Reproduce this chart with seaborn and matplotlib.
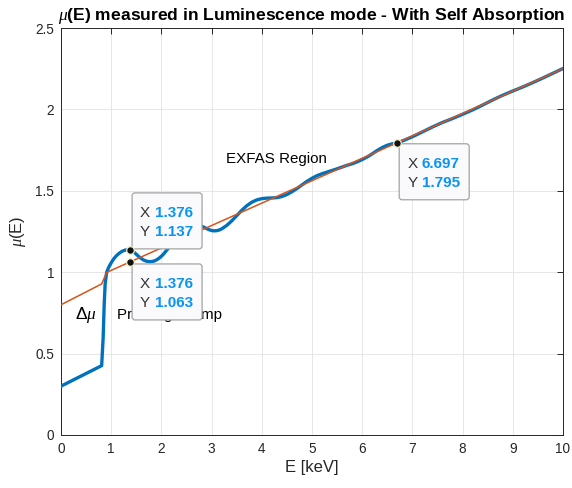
import numpy as np
import pandas as pd
import matplotlib
matplotlib.use("Agg")
import matplotlib.pyplot as plt
import seaborn as sns
from matplotlib.patches import FancyBboxPatch
from matplotlib.transforms import IdentityTransform
from matplotlib.ticker import FuncFormatter

# ---------------- data ----------------
blue_x = [0, 0.81, 0.84, 0.86, 0.88, 0.91, 0.95, 1.0, 1.05, 1.1, 1.15, 1.2, 1.25, 1.3, 1.35, 1.376,
          1.4, 1.45, 1.5, 1.55, 1.6, 1.65, 1.7, 1.75, 1.8, 1.85, 1.9, 1.95, 2.0, 2.05, 2.1, 2.15,
          2.2, 2.25, 2.3, 2.35, 2.4, 2.45, 2.5, 2.55, 2.6, 2.65, 2.7, 2.75, 2.8, 2.85, 2.9, 2.95,
          3.0, 3.05, 3.1, 3.15, 3.2, 3.3, 3.4, 3.5, 3.6, 3.7, 3.8, 3.9, 4.0, 4.1, 4.2, 4.3, 4.4,
          4.5, 4.6, 4.7, 4.8, 4.9, 5.0, 5.1, 5.2, 5.3, 5.4, 5.5, 5.6, 5.7, 5.8, 5.9, 6.0, 6.1,
          6.2, 6.3, 6.4, 6.5, 6.6, 6.697, 6.8, 7.0, 7.2, 7.4, 7.6, 7.8, 8.0, 8.2, 8.4, 8.6, 8.8,
          9.0, 9.2, 9.4, 9.6, 9.8, 10.0]
blue_y = [0.300, 0.426, 0.600, 0.800, 0.930, 1.000, 1.030, 1.058, 1.082, 1.100, 1.114, 1.125,
          1.133, 1.137, 1.138, 1.137, 1.134, 1.124, 1.110, 1.096, 1.084, 1.074, 1.068, 1.065,
          1.065, 1.068, 1.075, 1.085, 1.098, 1.114, 1.133, 1.152, 1.172, 1.192, 1.211, 1.229,
          1.245, 1.259, 1.270, 1.279, 1.285, 1.289, 1.290, 1.288, 1.283, 1.276, 1.268, 1.261,
          1.256, 1.254, 1.255, 1.259, 1.266, 1.287, 1.315, 1.347, 1.380, 1.408, 1.430, 1.444,
          1.452, 1.455, 1.456, 1.458, 1.465, 1.477, 1.494, 1.514, 1.536, 1.558, 1.577, 1.593,
          1.605, 1.615, 1.625, 1.635, 1.646, 1.657, 1.666, 1.678, 1.692, 1.708, 1.727, 1.748,
          1.766, 1.780, 1.789, 1.795, 1.806, 1.832, 1.862, 1.892, 1.920, 1.944, 1.970, 1.997,
          2.027, 2.058, 2.087, 2.113, 2.138, 2.165, 2.193, 2.222, 2.251]

orange_x = [0.0, 0.81, 0.91, 10.0]
orange_y = [0.800, 0.928, 0.999, 2.250]

tip_x = [1.376, 1.376, 6.697]
tip_y = [1.137, 1.063, 1.795]

x_ticks = [0, 1, 2, 3, 4, 5, 6, 7, 8, 9, 10]
y_ticks = [0, 0.5, 1, 1.5, 2, 2.5]

# ---------------- style ----------------
sns.set_style("white")
plt.rcParams['font.family'] = ['Liberation Sans', 'DejaVu Sans']
plt.rcParams['mathtext.fontset'] = 'custom'
plt.rcParams['mathtext.it'] = 'Liberation Serif:italic'
plt.rcParams['mathtext.rm'] = 'Liberation Sans'

AX = '#262626'
BLUE = '#0072BD'
ORANGE = '#D95319'
TIPBLUE = '#0a94f2'

fig = plt.figure(figsize=(5.72, 4.88), dpi=100)
ax = fig.add_axes([61/572, 1-435/488, (563-61)/572, (435-28)/488])

df_b = pd.DataFrame({'E': blue_x, 'mu': blue_y})
df_o = pd.DataFrame({'E': orange_x, 'mu': orange_y})
sns.lineplot(data=df_b, x='E', y='mu', ax=ax, color=BLUE, linewidth=2.4,
             estimator=None, sort=False, zorder=3)
sns.lineplot(data=df_o, x='E', y='mu', ax=ax, color=ORANGE, linewidth=1.1,
             estimator=None, sort=False, zorder=4)

ax.set_xlim(0, 10)
ax.set_ylim(0, 2.5)
ax.set_xticks(x_ticks)
ax.set_yticks(y_ticks)
ax.yaxis.set_major_formatter(FuncFormatter(lambda v, p: f"{v:g}"))
ax.grid(True, color='#e3e3e3', linewidth=0.6)
ax.set_axisbelow(True)
for s in ax.spines.values():
    s.set_color(AX)
    s.set_linewidth(0.7)
    s.set_visible(True)
ax.tick_params(direction='in', length=4, width=0.7, color=AX, labelcolor=AX,
               labelsize=9.8, top=True, right=True, pad=5)

ax.set_xlabel('E [keV]', fontsize=12, color=AX, labelpad=3)
ax.set_ylabel(r'$\mu$(E)', fontsize=12, color=AX, labelpad=5)
ax.set_title(r'$\mu$(E) measured in Luminescence mode - With Self Absorption',
             fontsize=12.6, fontweight='bold', color='#000000', pad=6)

ax.text(3.29, 1.695, 'EXFAS Region', fontsize=10.9, color='#000000', va='center', ha='left', zorder=2)
ax.text(1.11, 0.737, 'Pre-Edge Jump', fontsize=10.9, color='#000000', va='center', ha='left', zorder=2)
ax.text(0.28, 0.74, r'$\Delta\mu$', fontsize=12.5, color='#000000', va='center', ha='left', zorder=2)

# ---------------- data tips ----------------
ax.plot(tip_x, tip_y, 'o', color='#111111', markersize=5.5, markeredgecolor='#f3efc4',
        markeredgewidth=0.9, zorder=8)

fig.canvas.draw()
W, H = 70, 56
offsets = [(2, 1), (2, -2 - H), (2, -1 - H)]
for (tx, ty), (dx, dy) in zip(zip(tip_x, tip_y), offsets):
    px, py = ax.transData.transform((tx, ty))
    bx, by = px + dx, py + dy
    box = FancyBboxPatch((bx, by), W, H, boxstyle='round,pad=0,rounding_size=3',
                         transform=IdentityTransform(), facecolor='#fafafd',
                         edgecolor='#a3a3a3', linewidth=0.9, zorder=6)
    ax.add_artist(box)
    box.set_clip_on(False)
    rows = [('X', tx), ('Y', ty)]
    for i, (lab, val) in enumerate(rows):
        cy = by + H - 20 - 19 * i
        ax.text(bx + 8, cy, lab, transform=IdentityTransform(), fontsize=11,
                color='#333333', va='center', ha='left', zorder=7)
        ax.text(bx + 22.5, cy, f"{val:.3f}", transform=IdentityTransform(), fontsize=11,
                color=TIPBLUE, fontweight='bold', va='center', ha='left', zorder=7)

fig.savefig('out.png', dpi=100)
